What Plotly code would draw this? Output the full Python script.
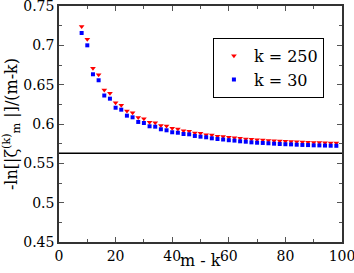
import plotly.graph_objects as go

m_minus_k = list(range(8, 100, 2))
k250 = [0.7239, 0.7077, 0.6708, 0.6627, 0.6432, 0.6390, 0.6271, 0.6239, 0.6165, 0.6142,
        0.6083, 0.6067, 0.6022, 0.6015, 0.5981, 0.5975, 0.5945, 0.5937, 0.5915, 0.5907,
        0.5886, 0.5882, 0.5864, 0.5860, 0.5844, 0.5841, 0.5831, 0.5826, 0.5818, 0.5809,
        0.5806, 0.5800, 0.5797, 0.5790, 0.5788, 0.5784, 0.5780, 0.5776, 0.5774, 0.5771,
        0.5769, 0.5766, 0.5764, 0.5762, 0.5760, 0.5758]
k30 = [0.7157, 0.7000, 0.6632, 0.6556, 0.6362, 0.6322, 0.6207, 0.6182, 0.6106, 0.6085,
       0.6026, 0.6013, 0.5971, 0.5966, 0.5933, 0.5920, 0.5895, 0.5889, 0.5873, 0.5869,
       0.5848, 0.5839, 0.5831, 0.5818, 0.5809, 0.5803, 0.5794, 0.5789, 0.5780, 0.5775,
       0.5767, 0.5762, 0.5759, 0.5755, 0.5750, 0.5746, 0.5743, 0.5741, 0.5737, 0.5734,
       0.5732, 0.5729, 0.5728, 0.5726, 0.5724, 0.5723]
limit_value = 0.5627
x_range = [0, 100]
y_range = [0.45, 0.75]
x_ticks = [0, 20, 40, 60, 80, 100]
y_ticks = [0.45, 0.5, 0.55, 0.6, 0.65, 0.7, 0.75]
y_ticktext = ["0.45", "0.5", "0.55", "0.6", "0.65", "0.7", "0.75"]
x_title = "m - k"
y_title = "-ln[|ζ<sup>(k)</sup><sub>m</sub> |]/(m-k)"

FONT = "DejaVu Serif"

fig = go.Figure()
fig.add_trace(go.Scatter(x=m_minus_k, y=k250, mode="markers", name="k = 250",
                         marker=dict(symbol="triangle-down", size=5, color="red")))
fig.add_trace(go.Scatter(x=m_minus_k, y=k30, mode="markers", name="k = 30",
                         marker=dict(symbol="square", size=4, color="blue")))
fig.add_trace(go.Scatter(x=x_range, y=[limit_value, limit_value], mode="lines",
                         line=dict(color="black", width=1.5), showlegend=False))

fig.update_layout(
    width=354, height=273,
    margin=dict(l=59, r=12, t=6, b=31),
    plot_bgcolor="white", paper_bgcolor="white",
    font=dict(family=FONT, size=14, color="black"),
    showlegend=True,
    legend=dict(x=0.74, y=0.865, xanchor="center", yanchor="top",
                bordercolor="black", borderwidth=1, bgcolor="white",
                font=dict(family=FONT, size=16, color="black"), itemwidth=30),
    xaxis=dict(range=x_range, tickmode="array", tickvals=x_ticks,
               ticktext=[str(v) for v in x_ticks], ticklabeloverflow="allow", automargin=False,
               showline=True, linecolor="#333333", linewidth=1.5, mirror="ticks",
               ticks="inside", ticklen=5, tickcolor="#555555", showgrid=False, zeroline=False,
               tickfont=dict(family=FONT, size=14, color="black"),
               minor=dict(ticks="inside", ticklen=3, dtick=10, tick0=0, tickcolor="#555555")),
    yaxis=dict(range=y_range, tickmode="array", tickvals=y_ticks, ticktext=y_ticktext,
               ticklabeloverflow="allow", automargin=False,
               showline=True, linecolor="#333333", linewidth=1.5, mirror="ticks",
               ticks="inside", ticklen=5, tickcolor="#555555", showgrid=False, zeroline=False,
               tickfont=dict(family=FONT, size=14, color="black"),
               minor=dict(ticks="inside", ticklen=3, dtick=0.025, tick0=0.45, tickcolor="#555555"),
               title=dict(text=y_title, font=dict(family=FONT, size=16, color="black"), standoff=2)),
    annotations=[dict(text=x_title, xref="paper", yref="paper", x=0.5, y=-0.131,
                      xanchor="center", yanchor="bottom", yshift=1, showarrow=False,
                      font=dict(family=FONT, size=16, color="black"))],
)

fig.write_html("out.html", post_script="document.body.style.margin='0';",
               config={"displayModeBar": False})
